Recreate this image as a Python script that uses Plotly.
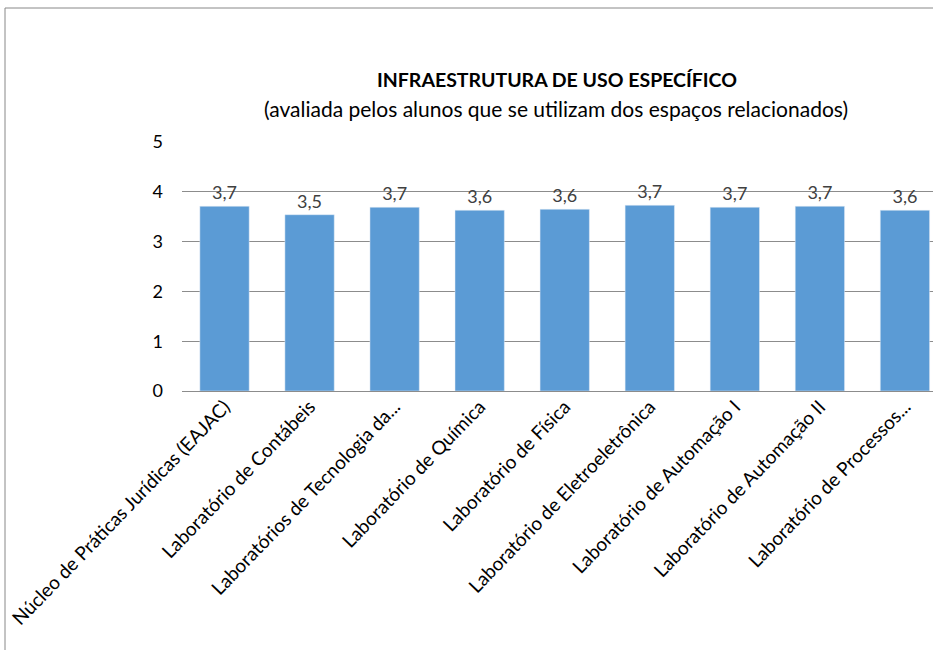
import plotly.graph_objects as go

labs = [
    "Núcleo de Práticas Jurídicas (EAJAC)",
    "Laboratório de Contábeis",
    "Laboratórios de Tecnologia da...",
    "Laboratório de Química",
    "Laboratório de Física",
    "Laboratório de Eletroeletrônica",
    "Laboratório de Automação I",
    "Laboratório de Automação II",
    "Laboratório de Processos...",
]
notas = [3.71, 3.54, 3.69, 3.63, 3.65, 3.73, 3.69, 3.71, 3.63]

W, H = 933, 650
ML, MR, MT, MB = 182, 0, 142, 259
fnt = "Lato, 'Open Sans', sans-serif"

fig = go.Figure()
fig.add_trace(go.Bar(
    x=list(range(len(labs))), y=notas,
    marker_color="#5B9BD5", width=0.58,
    text=notas, texttemplate="%{y:.1f}", textposition="outside",
    textfont=dict(size=18, color="#404040", family=fnt),
    cliponaxis=False,
))

# outer chart border (left + top, the rest is cut off in the original)
px_w = W - ML - MR
def xp(px):
    return (px - ML) / px_w
py_h = H - MT - MB
def yp(py):
    return (H - MB - py) / py_h

fig.add_shape(type="line", xref="paper", yref="paper",
              x0=xp(5), x1=xp(5), y0=yp(8), y1=yp(650),
              line=dict(color="#888888", width=1))
fig.add_shape(type="line", xref="paper", yref="paper",
              x0=xp(5), x1=xp(933), y0=yp(8), y1=yp(8),
              line=dict(color="#888888", width=1))

fig.add_annotation(text="<b>INFRAESTRUTURA DE USO ESPECÍFICO</b>",
                   xref="paper", yref="paper", x=xp(557), y=yp(66),
                   showarrow=False, font=dict(size=19.5, color="#000000", family=fnt))
fig.add_annotation(text="(avaliada pelos alunos que se utilizam dos espaços relacionados)",
                   xref="paper", yref="paper", x=xp(556), y=yp(94),
                   showarrow=False, font=dict(size=21, color="#000000", family=fnt))

fig.update_layout(
    width=W, height=H,
    margin=dict(l=ML, r=MR, t=MT, b=MB),
    paper_bgcolor="white", plot_bgcolor="white",
    separators=",.",
    showlegend=False,
    font=dict(family=fnt, color="#404040"),
)
fig.update_xaxes(
    tickmode="array", tickvals=list(range(len(labs))), ticktext=labs,
    tickangle=-46, range=[-0.5, 8.33],
    tickfont=dict(size=19, color="#000000", family=fnt),
    showgrid=False, showline=False, zeroline=False,
)
fig.update_yaxes(
    range=[0, 5], dtick=1, tickformat="d",
    showgrid=True, gridcolor="#8c8c8c", gridwidth=1,
    zeroline=True, zerolinecolor="#8c8c8c", zerolinewidth=1,
    tickfont=dict(size=18, color="#000000", family=fnt),
    ticklabelstandoff=18,
)

fig.write_html("out.html", config={"displayModeBar": False},
               post_script="document.body.style.margin='0';")
